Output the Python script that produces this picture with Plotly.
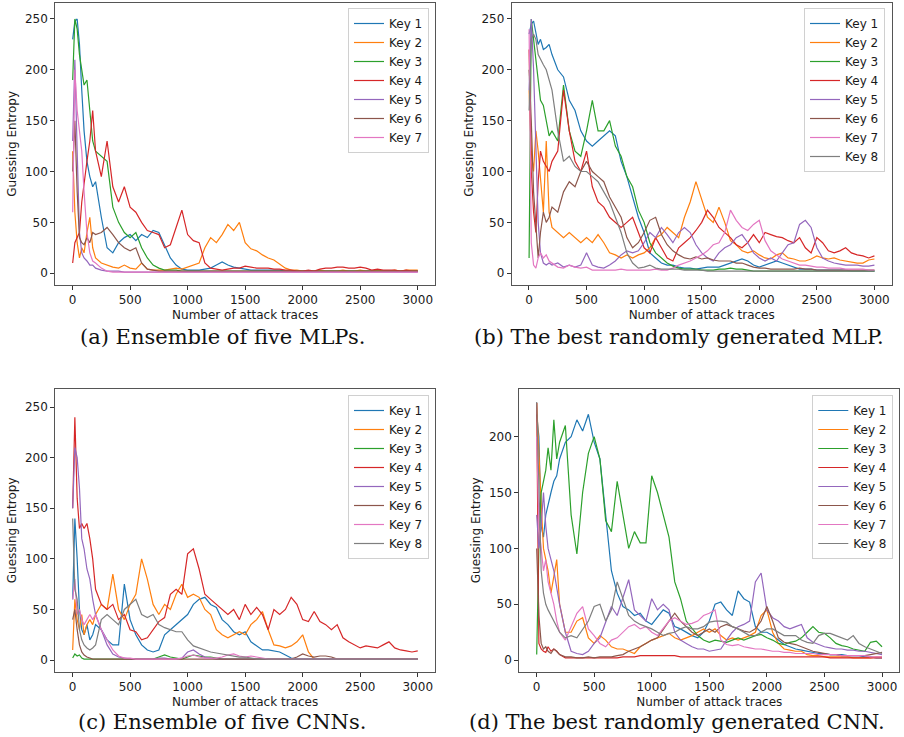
import plotly.graph_objects as go

# ---------------- data ----------------
X = [1, 20, 40, 60, 80, 100, 125, 150, 175, 200,
     250, 300, 350, 400, 450, 500, 550, 600, 650, 700, 750, 800, 850, 900, 950, 1000,
     1050, 1100, 1150, 1200, 1250, 1300, 1350, 1400, 1450, 1500, 1550, 1600, 1650, 1700,
     1750, 1800, 1850, 1900, 1950, 2000,
     2050, 2100, 2150, 2200, 2250, 2300, 2350, 2400, 2450, 2500, 2550, 2600, 2650, 2700,
     2750, 2800, 2850, 2900, 2950, 3000]

KEYS = ["Key 1", "Key 2", "Key 3", "Key 4", "Key 5", "Key 6", "Key 7", "Key 8"]

X_TICKS = [0, 500, 1000, 1500, 2000, 2500, 3000]
Y_TICKS_250 = [0, 50, 100, 150, 200, 250]
Y_TICKS_200 = [0, 50, 100, 150, 200]

CAPTIONS = ["(a) Ensemble of five MLPs.", "(b) The best randomly generated MLP.",
            "(c) Ensemble of five CNNs.", "(d) The best randomly generated CNN."]

# (a) Ensemble of five MLPs
A_K1 = [230, 248, 250, 225, 180, 140, 110, 95, 85, 90,
        55, 25, 20, 30, 35, 38, 32, 38, 35, 42, 40, 28, 15, 8, 4, 3,
        3, 3, 4, 5, 8, 11, 8, 6, 5, 4, 3, 3, 3, 3, 3, 3, 2, 2, 2, 2,
        2, 2, 2, 2, 2, 2, 2, 2, 2, 2, 2, 2, 2, 2, 2, 2, 2, 2, 2, 2]
A_K2 = [120, 60, 30, 15, 25, 20, 40, 55, 25, 15,
        10, 8, 6, 5, 8, 5, 4, 10, 4, 3, 3, 3, 4, 5, 4, 6,
        8, 10, 25, 35, 30, 38, 48, 42, 50, 30, 24, 22, 18, 15, 13, 9, 5, 3, 3, 2,
        2, 2, 3, 2, 2, 2, 3, 2, 2, 3, 2, 2, 3, 2, 2, 3, 2, 3, 3, 3]
A_K3 = [190, 250, 240, 215, 200, 185, 190, 160, 130, 120,
        115, 110, 65, 50, 40, 35, 40, 25, 15, 8, 5, 3, 3, 3, 2, 2,
        2, 2, 2, 2, 2, 2, 2, 2, 2, 2, 2, 2, 2, 2, 2, 2, 2, 2, 2, 2,
        2, 2, 2, 2, 2, 2, 2, 2, 2, 2, 2, 2, 2, 2, 2, 2, 2, 2, 2, 2]
A_K4 = [10, 30, 35, 40, 70, 90, 110, 130, 160, 120,
        95, 130, 85, 70, 85, 65, 60, 50, 42, 40, 38, 25, 28, 45, 62, 38,
        32, 30, 10, 5, 4, 3, 4, 5, 5, 7, 6, 5, 5, 5, 4, 4, 3, 3, 2, 2,
        3, 2, 4, 5, 5, 6, 6, 5, 5, 6, 5, 3, 4, 3, 3, 3, 2, 3, 2, 2]
A_K5 = [130, 210, 120, 40, 20, 15, 12, 8, 8, 5,
        3, 2, 2, 2, 1, 1, 1, 1, 1, 1, 1, 1, 1, 1, 1, 1,
        1, 1, 1, 1, 1, 1, 1, 1, 1, 1, 1, 1, 1, 1, 1, 1, 1, 1, 1, 1,
        1, 1, 1, 1, 1, 1, 1, 1, 1, 1, 1, 1, 1, 1, 1, 1, 1, 1, 1, 1]
A_K6 = [100, 150, 80, 35, 30, 28, 35, 30, 40, 38,
        40, 45, 38, 30, 25, 22, 25, 10, 4, 3, 2, 2, 2, 2, 2, 2,
        2, 2, 2, 2, 2, 2, 2, 2, 2, 2, 2, 2, 2, 2, 2, 2, 2, 2, 2, 2,
        2, 2, 2, 2, 2, 2, 2, 2, 2, 2, 2, 2, 2, 2, 2, 2, 2, 2, 2, 2]
A_K7 = [60, 200, 160, 140, 120, 80, 40, 20, 12, 10,
        5, 2, 1, 1, 1, 1, 1, 1, 1, 1, 1, 1, 1, 1, 1, 1,
        1, 1, 1, 1, 1, 1, 1, 1, 1, 1, 1, 1, 1, 1, 1, 1, 1, 1, 1, 1,
        1, 1, 1, 1, 1, 1, 1, 1, 1, 1, 1, 1, 1, 1, 1, 1, 1, 1, 1, 1]

# (b) The best randomly generated MLP
B_K1 = [235, 245, 248, 235, 225, 230, 220, 222, 225, 215,
        200, 193, 170, 160, 140, 130, 125, 130, 135, 140, 135, 110, 95, 75, 55, 40,
        20, 15, 10, 8, 8, 6, 5, 5, 4, 5, 6, 6, 6, 8, 10, 12, 14, 12, 8, 6,
        8, 10, 12, 10, 8, 6, 4, 4, 4, 3, 3, 3, 3, 3, 3, 2, 2, 2, 2, 2]
B_K2 = [180, 120, 100, 140, 120, 90, 60, 130, 60, 45,
        40, 35, 40, 35, 30, 35, 30, 38, 30, 20, 18, 15, 18, 15, 18, 20,
        25, 35, 38, 45, 40, 35, 55, 70, 90, 72, 55, 50, 65, 50, 32, 28, 22, 20, 22, 18,
        15, 14, 18, 20, 15, 14, 12, 12, 14, 17, 15, 14, 15, 13, 12, 11, 10, 10, 13, 14]
B_K3 = [15, 250, 230, 210, 190, 170, 165, 150, 135, 140,
        130, 185, 140, 120, 115, 140, 170, 140, 140, 150, 125, 115, 95, 85, 62, 50,
        30, 20, 15, 10, 7, 5, 4, 4, 4, 3, 3, 3, 4, 4, 5, 4, 4, 3, 2, 2,
        2, 2, 2, 2, 2, 2, 2, 2, 2, 2, 2, 2, 2, 2, 2, 2, 2, 2, 2, 2]
B_K4 = [220, 100, 60, 40, 90, 120, 110, 105, 100, 110,
        120, 180, 140, 110, 100, 120, 85, 70, 65, 55, 50, 45, 50, 55, 40, 25,
        20, 35, 25, 15, 12, 25, 30, 35, 42, 50, 62, 55, 45, 40, 35, 28, 25, 30, 38, 30,
        40, 38, 36, 35, 32, 30, 35, 25, 20, 35, 30, 22, 20, 22, 25, 20, 18, 17, 15, 17]
B_K5 = [180, 250, 200, 120, 50, 20, 10, 8, 10, 8,
        10, 6, 8, 6, 8, 20, 8, 6, 5, 8, 12, 18, 22, 20, 22, 30,
        40, 35, 45, 38, 30, 40, 45, 40, 28, 20, 15, 12, 20, 25, 28, 35, 38, 30, 20, 15,
        12, 15, 12, 20, 28, 30, 48, 52, 45, 25, 15, 12, 10, 9, 8, 8, 8, 7, 7, 8]
B_K6 = [200, 150, 80, 50, 15, 40, 60, 50, 55, 65,
        60, 80, 90, 85, 100, 110, 100, 95, 90, 75, 65, 55, 35, 25, 30, 40,
        52, 55, 38, 28, 22, 18, 15, 14, 16, 14, 15, 13, 12, 12, 12, 10, 10, 8, 6, 5,
        5, 4, 4, 4, 4, 4, 5, 4, 4, 3, 3, 3, 3, 3, 3, 3, 3, 3, 3, 3]
B_K7 = [240, 30, 8, 5, 15, 20, 15, 18, 12, 10,
        6, 5, 8, 6, 5, 6, 3, 3, 3, 3, 3, 4, 3, 3, 3, 3,
        3, 4, 3, 3, 5, 8, 10, 12, 15, 18, 22, 28, 30, 40, 62, 52, 45, 42, 48, 52,
        32, 22, 18, 14, 12, 10, 8, 8, 7, 6, 6, 5, 5, 5, 4, 4, 4, 4, 3, 3]
B_K8 = [160, 230, 235, 230, 215, 210, 205, 200, 190, 180,
        140, 110, 115, 105, 100, 100, 95, 90, 80, 70, 55, 40, 20, 10, 5, 6,
        8, 5, 4, 4, 4, 4, 3, 3, 3, 3, 2, 2, 2, 2, 2, 2, 2, 2, 2, 2,
        2, 2, 2, 2, 2, 2, 2, 2, 2, 2, 2, 2, 2, 2, 2, 2, 2, 2, 2, 2]

# (c) Ensemble of five CNNs
C_K1 = [60, 140, 100, 50, 30, 25, 35, 20, 25, 35,
        30, 20, 15, 15, 75, 40, 25, 15, 10, 8, 10, 25, 30, 35, 40, 45,
        55, 60, 62, 55, 52, 40, 35, 28, 25, 28, 18, 14, 10, 10, 9, 8, 5, 2, 1, 1,
        1, 1, 1, 1, 1, 1, 1, 1, 1, 1, 1, 1, 1, 1, 1, 1, 1, 1, 1, 1]
C_K2 = [10, 60, 40, 30, 45, 25, 35, 40, 35, 45,
        55, 50, 85, 50, 40, 55, 65, 100, 80, 55, 45, 55, 50, 65, 75, 62,
        65, 62, 50, 45, 30, 25, 22, 25, 28, 25, 35, 40, 48, 30, 15, 14, 12, 14, 18, 25,
        8, 1, 1, 1, 1, 1, 1, 1, 1, 1, 1, 1, 1, 1, 1, 1, 1, 1, 1, 1]
C_K3 = [2, 6, 4, 5, 2, 1, 1, 1, 1, 1,
        1, 1, 1, 1, 1, 1, 1, 1, 1, 1, 3, 5, 3, 2, 1, 3,
        5, 4, 3, 3, 2, 1, 1, 1, 1, 1, 1, 1, 1, 1, 1, 1, 1, 1, 1, 1,
        1, 1, 1, 1, 1, 1, 1, 1, 1, 1, 1, 1, 1, 1, 1, 1, 1, 1, 1, 1]
C_K4 = [150, 240, 160, 130, 135, 130, 135, 120, 100, 70,
        55, 50, 55, 40, 45, 30, 28, 20, 22, 30, 38, 42, 65, 70, 65, 105,
        110, 90, 65, 60, 55, 50, 45, 50, 40, 55, 45, 52, 45, 30, 50, 45, 50, 62, 55, 40,
        38, 48, 38, 35, 30, 35, 22, 18, 15, 12, 14, 13, 12, 15, 18, 12, 10, 9, 8, 9]
C_K5 = [150, 210, 200, 170, 120, 110, 90, 80, 60, 45,
        30, 15, 6, 3, 2, 1, 1, 1, 1, 1, 2, 2, 1, 1, 2, 8,
        10, 6, 3, 2, 1, 1, 1, 1, 1, 1, 1, 1, 1, 1, 1, 1, 1, 1, 1, 1,
        1, 1, 1, 1, 1, 1, 1, 1, 1, 1, 1, 1, 1, 1, 1, 1, 1, 1, 1, 1]
C_K6 = [40, 50, 30, 15, 8, 5, 3, 2, 1, 1,
        1, 1, 1, 1, 1, 1, 1, 1, 1, 1, 1, 1, 1, 1, 1, 1,
        1, 1, 1, 1, 1, 1, 1, 1, 1, 1, 1, 1, 1, 1, 1, 1, 1, 1, 3, 6,
        4, 3, 4, 4, 3, 1, 1, 1, 1, 1, 1, 1, 1, 1, 1, 1, 1, 1, 1, 1]
C_K7 = [60, 80, 45, 50, 40, 35, 40, 45, 40, 45,
        30, 20, 10, 4, 2, 2, 1, 1, 1, 1, 1, 1, 1, 1, 2, 4,
        5, 3, 2, 2, 2, 3, 5, 6, 4, 3, 4, 3, 2, 1, 1, 1, 1, 1, 1, 1,
        1, 1, 1, 1, 1, 1, 1, 1, 1, 1, 1, 1, 1, 1, 1, 1, 1, 1, 1, 1]
C_K8 = [140, 70, 60, 30, 20, 15, 12, 10, 12, 15,
        40, 45, 40, 35, 50, 55, 60, 45, 42, 45, 35, 32, 30, 28, 28, 20,
        14, 12, 10, 8, 7, 6, 5, 4, 3, 3, 2, 1, 1, 1, 1, 1, 1, 1, 1, 1,
        1, 1, 1, 1, 1, 1, 1, 1, 1, 1, 1, 1, 1, 1, 1, 1, 1, 1, 1, 1]

# (d) The best randomly generated CNN
D_K1 = [220, 200, 120, 110, 130, 140, 150, 160, 165, 180,
        195, 200, 215, 205, 220, 195, 180, 130, 80, 60, 48, 45, 40, 42, 35, 32,
        38, 45, 42, 30, 28, 25, 22, 20, 25, 35, 50, 52, 45, 40, 62, 55, 52, 30, 25, 25,
        22, 18, 14, 12, 10, 9, 8, 7, 6, 6, 5, 5, 5, 4, 4, 4, 3, 3, 2, 2]
D_K2 = [230, 180, 140, 100, 90, 80, 60, 75, 90, 50,
        25, 25, 35, 38, 20, 15, 22, 18, 12, 10, 10, 8, 6, 12, 15, 18,
        20, 22, 24, 20, 18, 20, 22, 25, 28, 25, 28, 22, 18, 20, 18, 20, 22, 25, 40, 45,
        25, 15, 10, 9, 8, 8, 5, 4, 4, 3, 3, 3, 3, 3, 2, 2, 2, 2, 3, 3]
D_K3 = [5, 100, 150, 160, 170, 190, 170, 215, 180, 195,
        210, 130, 95, 150, 185, 200, 180, 125, 115, 160, 130, 100, 115, 105, 105, 165,
        150, 130, 110, 70, 55, 35, 28, 22, 18, 16, 18, 17, 16, 18, 20, 18, 20, 22, 23, 20,
        18, 15, 14, 16, 17, 20, 25, 30, 25, 24, 20, 15, 13, 12, 10, 9, 8, 16, 17, 12]
D_K4 = [230, 15, 10, 8, 7, 12, 8, 10, 8, 5,
        2, 2, 2, 2, 2, 2, 2, 2, 2, 2, 3, 3, 3, 4, 4, 4,
        4, 4, 4, 4, 3, 3, 3, 3, 3, 3, 3, 3, 3, 3, 3, 3, 3, 3, 3, 3,
        3, 3, 3, 3, 3, 3, 3, 3, 3, 3, 2, 2, 2, 2, 2, 2, 2, 2, 2, 2]
D_K5 = [130, 100, 120, 150, 120, 100, 90, 80, 65, 50,
        25, 8, 6, 5, 8, 15, 20, 35, 48, 40, 55, 72, 45, 40, 35, 55,
        45, 50, 45, 25, 18, 15, 12, 10, 10, 8, 9, 10, 18, 25, 30, 32, 35, 70, 78, 45,
        38, 35, 30, 28, 30, 32, 20, 16, 14, 12, 11, 10, 10, 9, 9, 8, 8, 7, 6, 5]
D_K6 = [100, 40, 15, 10, 12, 8, 6, 10, 8, 5,
        3, 3, 2, 2, 3, 2, 3, 3, 3, 4, 5, 8, 10, 12, 15, 18,
        20, 28, 35, 42, 35, 30, 25, 22, 25, 28, 25, 30, 32, 30, 28, 26, 25, 28, 35, 48,
        35, 20, 16, 15, 14, 12, 10, 8, 7, 6, 5, 5, 4, 4, 4, 4, 4, 5, 6, 7]
D_K7 = [200, 120, 100, 80, 90, 70, 60, 50, 35, 25,
        18, 30, 42, 48, 28, 22, 15, 12, 18, 20, 25, 30, 32, 28, 30, 25,
        22, 28, 35, 38, 35, 32, 33, 35, 40, 42, 45, 18, 14, 13, 14, 12, 11, 10, 10, 9,
        8, 8, 7, 7, 6, 6, 6, 6, 5, 5, 5, 5, 4, 4, 4, 4, 4, 3, 3, 3]
D_K8 = [231, 150, 80, 60, 50, 45, 40, 35, 30, 25,
        20, 22, 20, 28, 35, 48, 50, 35, 45, 70, 55, 40, 35, 32, 30, 28,
        25, 22, 24, 25, 28, 30, 28, 28, 30, 34, 35, 35, 34, 30, 28, 25, 22, 22, 25, 28,
        28, 25, 22, 22, 22, 18, 16, 15, 22, 24, 24, 22, 20, 18, 22, 15, 12, 10, 8, 6]

PANEL_SERIES = [
    [A_K1, A_K2, A_K3, A_K4, A_K5, A_K6, A_K7],
    [B_K1, B_K2, B_K3, B_K4, B_K5, B_K6, B_K7, B_K8],
    [C_K1, C_K2, C_K3, C_K4, C_K5, C_K6, C_K7, C_K8],
    [D_K1, D_K2, D_K3, D_K4, D_K5, D_K6, D_K7, D_K8],
]
for ser in PANEL_SERIES:
    for s in ser:
        assert len(s) == len(X), len(s)

# ---------------- styling / layout ----------------
COLORS = ["#1f77b4", "#ff7f0e", "#2ca02c", "#d62728",
          "#9467bd", "#8c564b", "#e377c2", "#7f7f7f"]
W, H = 904, 737

# panel frames in pixels: (left, right, top, bottom)
FRAMES = [(55.3, 435.0, 2.7, 285.0),
          (511.7, 891.7, 2.7, 285.0),
          (55.3, 435.0, 389.0, 671.7),
          (519.3, 899.3, 389.0, 671.7)]
YRANGES = [[-11.6, 266.0], [-11.6, 266.0], [-11.5, 267.9], [-10.3, 242.6]]
YTICKS = [Y_TICKS_250, Y_TICKS_250, Y_TICKS_250, Y_TICKS_200]
LEGEND_POS = [(429, 8), (885, 8), (429, 395), (893.3, 395)]
CAPTION_POS = [(222, 337), (679, 337), (222, 722), (677, 722)]

fig = go.Figure()
TICKFONT = dict(family="DejaVu Sans", size=12, color="#1a1a1a")

for p, series in enumerate(PANEL_SERIES):
    suffix = "" if p == 0 else str(p + 1)
    lname = "legend" if p == 0 else "legend" + str(p + 1)
    for k, vals in enumerate(series):
        fig.add_trace(go.Scatter(
            x=X, y=vals, mode="lines", name=KEYS[k],
            line=dict(color=COLORS[k], width=1.2),
            xaxis="x" + suffix, yaxis="y" + suffix,
            legend=lname, showlegend=True))
    l, r, t, b = FRAMES[p]
    common = dict(showline=True, linecolor="#555555", linewidth=1, mirror=True,
                  ticks="outside", ticklen=4, tickwidth=1, tickcolor="#333333",
                  showgrid=False, zeroline=False, tickfont=TICKFONT)
    fig.layout["xaxis" + suffix] = dict(
        domain=[l / W, r / W], range=[-150, 3150], tickvals=X_TICKS,
        anchor="y" + suffix,
        title=dict(text="Number of attack traces", standoff=4,
                   font=dict(family="DejaVu Sans", size=12, color="#1a1a1a")),
        **common)
    fig.layout["yaxis" + suffix] = dict(
        domain=[1 - b / H, 1 - t / H], range=YRANGES[p], tickvals=YTICKS[p],
        anchor="x" + suffix,
        title=dict(text="Guessing Entropy", standoff=5,
                   font=dict(family="DejaVu Sans", size=12, color="#1a1a1a")),
        **common)
    lx, ly = LEGEND_POS[p]
    fig.layout[lname] = dict(
        x=lx / W, y=1 - ly / H, xanchor="right", yanchor="top",
        bgcolor="rgba(255,255,255,0.85)", bordercolor="#d0d0d0", borderwidth=1,
        font=dict(family="DejaVu Sans", size=12, color="#1a1a1a"),
        tracegroupgap=0)
    cx, cy = CAPTION_POS[p]
    fig.add_annotation(text=CAPTIONS[p], x=cx / W, y=1 - cy / H,
                       xref="paper", yref="paper", xanchor="center", yanchor="middle",
                       showarrow=False,
                       font=dict(family="DejaVu Serif", size=21, color="#111111"))

fig.update_layout(width=W, height=H, margin=dict(l=0, r=0, t=0, b=0),
                  paper_bgcolor="white", plot_bgcolor="white")

fig.write_html("out.html")
